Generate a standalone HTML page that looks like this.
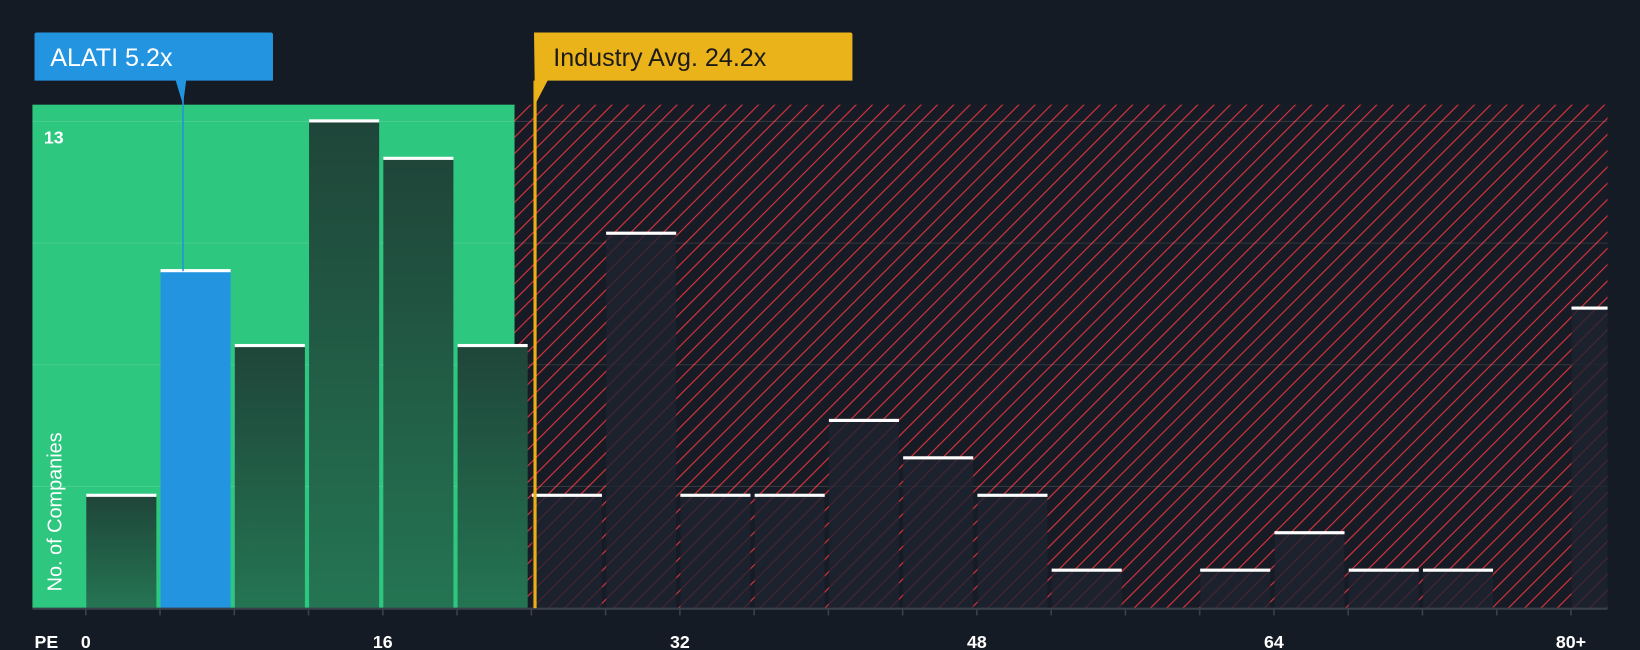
<!DOCTYPE html>
<html><head><meta charset="utf-8"><style>
html,body{margin:0;padding:0;background:#151b24;}
svg{display:block;font-family:"Liberation Sans",sans-serif;}
</style></head><body>
<svg id="chart" width="1640" height="650" viewBox="0 0 1568 621" preserveAspectRatio="none" xmlns="http://www.w3.org/2000/svg">
<defs>
<pattern id="hatch" patternUnits="userSpaceOnUse" width="11" height="11" patternTransform="rotate(45)">
<rect width="11" height="11" fill="#161b25"/>
<line x1="0" y1="0" x2="0" y2="11" stroke="#d9343c" stroke-width="2.2"/>
</pattern>
<linearGradient id="darkbar" x1="0" y1="0" x2="0" y2="1">
<stop offset="0" stop-color="#1f4539"/><stop offset="1" stop-color="#247553"/>
</linearGradient>
</defs>
<rect width="1568" height="621" fill="#151b24"/>
<g id="zones"></g>
<g id="grid"></g>
<g id="bars"></g>
<g id="axis"></g>
<g id="annot"></g>
</svg>
<script>
const binStarts=[0,4,8,12,16,20,24,28,32,36,40,44,48,52,56,60,64,68,72,76,80];
const counts=[3,9,7,13,12,7,3,10,3,3,5,4,3,1,0,1,2,1,1,0,8];
const xTickValues=[0,16,32,48,64,80];
const xTickLabels=['0','16','32','48','64','80+'];
const companyValue=5.2;
const industryAvg=24.2;
const fairThreshold=23.1;
const yMax=13;
const ns='http://www.w3.org/2000/svg';
const L=31,R=1537,T=100,B=581,x0=82,pxPerUnit=17.75;
const yTop=116;
function X(v){return x0+v*pxPerUnit;}
function Y(v){return B-(v/yMax)*(B-yTop);}
function mk(tag,attrs,parent){const e=document.createElementNS(ns,tag);for(const k in attrs)e.setAttribute(k,attrs[k]);parent.appendChild(e);return e;}
const zones=document.getElementById('zones'),grid=document.getElementById('grid'),bars=document.getElementById('bars'),axis=document.getElementById('axis'),annot=document.getElementById('annot');
const gz=mk('rect',{x:L,y:T,width:X(fairThreshold)-L,height:B-T,fill:'#2ec77f'},zones);


const rz=mk('rect',{x:X(fairThreshold),y:T,width:R-X(fairThreshold),height:B-T,fill:'url(#hatch)'},zones);


for(let i=1;i<=4;i++){const g=mk('line',{x1:L,x2:R,y1:Y(yMax*i/4),y2:Y(yMax*i/4),stroke:'rgba(255,255,255,0.12)','stroke-width':1},grid);

}
binStarts.forEach((s,i)=>{
  const xa=X(s)+0.5, w=(i===binStarts.length-1)?(R-xa):(4*pxPerUnit-4);
  const v=counts[i]; if(v<=0)return;
  const inGreen=s<fairThreshold-1;
  const isCo=companyValue>=s&&companyValue<s+4;
  const fill=isCo?'#2394e0':(inGreen?'url(#darkbar)':'rgba(30,34,48,0.78)');
  const b=mk('rect',{x:xa,y:Y(v),width:w,height:B-Y(v),fill:fill},bars);
  
  
  const c=mk('rect',{x:xa,y:Y(v)-2,width:w,height:3,fill:'#ffffff'},bars);
  
  
});
const ax=mk('line',{x1:L,x2:R,y1:B+0.5,y2:B+0.5,stroke:'#3a414d','stroke-width':2},axis);


binStarts.forEach(s=>{const t=mk('line',{x1:X(s),x2:X(s),y1:B,y2:B+7,stroke:'#3a414d','stroke-width':1.5},axis);

});
xTickValues.forEach((v,i)=>{const t=mk('text',{x:X(v),y:619,fill:'#ffffff','font-size':17,'font-weight':'bold','text-anchor':'middle'},axis);t.textContent=xTickLabels[i];

});
const pe=mk('text',{x:33,y:619,fill:'#ffffff','font-size':17,'font-weight':'bold'},axis);pe.textContent='PE';


const yl=mk('text',{x:42,y:137,fill:'#ffffff','font-size':17,'font-weight':'bold'},axis);yl.textContent=String(yMax);


const yt=mk('text',{x:59,y:565,fill:'#ffffff','font-size':19,transform:'rotate(-90 59 565)'},axis);yt.textContent='No. of Companies';


const cl=mk('line',{x1:175,x2:175,y1:95,y2:Y(counts[1]),stroke:'#2394e0','stroke-width':1.5},annot);


const cb=mk('path',{d:'M35,31 H259 a2,2 0 0 1 2,2 V77 H178 L175,100 L168,77 H33 V33 a2,2 0 0 1 2,-2 Z',fill:'#2394e0'},annot);


const ct=mk('text',{x:48,y:63,fill:'#ffffff','font-size':24},annot);ct.textContent='ALATI 5.2x';


const ix=X(industryAvg);
const il=mk('line',{x1:ix,x2:ix,y1:77,y2:B,stroke:'#eeae16','stroke-width':3},annot);


const ib=mk('path',{d:'M'+(ix-1)+',31 H813 a2,2 0 0 1 2,2 V77 H'+(ix+12)+' L'+(ix)+',100 Z',fill:'#eab31a'},annot);


const it=mk('text',{x:529,y:63,fill:'#1b1b1b','font-size':24},annot);it.textContent='Industry Avg. 24.2x';


</script>
</body></html>
